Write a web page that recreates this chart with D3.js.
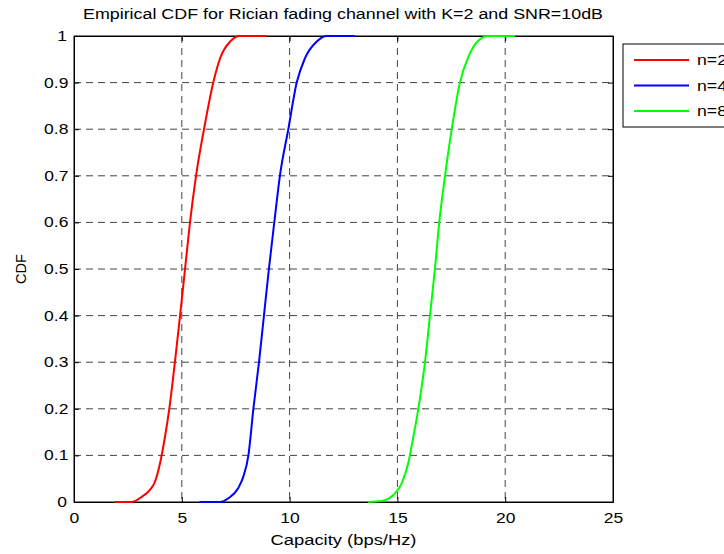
<!DOCTYPE html>
<html>
<head>
<meta charset="utf-8">
<script src="https://cdn.jsdelivr.net/npm/d3@7"></script>
<style>
    body { margin: 0; background: #fff; }
    svg text { font-family: "Liberation Sans", Arial, sans-serif; fill: #000; }
    .stretch { transform-box: fill-box; transform-origin: center; transform: scaleX(1.25); }
</style>
</head>
<body>
<div id="chart"></div>
<script>
// values (capacity in bps/Hz, cumulative probability)
var xTicks = [0, 5, 10, 15, 20, 25];
var yTicks = [0, 0.1, 0.2, 0.3, 0.4, 0.5, 0.6, 0.7, 0.8, 0.9, 1];
var seriesNames = ["n=2", "n=4", "n=8"];
var seriesColors = ["#ff0000", "#0000ff", "#00ff00"];

var n2x = [1.9, 2.67, 3.14, 3.52, 3.76, 3.99, 4.22, 4.42, 4.68, 4.92, 5.15, 5.38, 5.66, 6.03, 6.46, 6.8, 7.24, 7.7, 8.94];
var n2y = [0, 0, 0.011, 0.026, 0.044, 0.083, 0.14, 0.2, 0.3, 0.4, 0.5, 0.6, 0.7, 0.8, 0.9, 0.955, 0.988, 1, 1];
var n4x = [5.81, 6.77, 7.16, 7.62, 7.85, 8.09, 8.32, 8.58, 8.81, 9.04, 9.29, 9.55, 9.94, 10.33, 10.71, 11.26, 11.72, 13.03];
var n4y = [0, 0, 0.008, 0.03, 0.054, 0.1, 0.2, 0.3, 0.4, 0.5, 0.6, 0.7, 0.8, 0.9, 0.952, 0.988, 1, 1];
var n8x = [13.65, 14.27, 14.81, 15.2, 15.5, 15.74, 15.97, 16.28, 16.51, 16.74, 16.94, 17.21, 17.52, 17.9, 18.29, 18.75, 19.22, 20.45];
var n8y = [0, 0.002, 0.015, 0.04, 0.083, 0.14, 0.2, 0.3, 0.4, 0.5, 0.6, 0.7, 0.8, 0.9, 0.955, 0.99, 1, 1];

var margin = { left: 74, right: 111, top: 36, bottom: 52 };
var width = 724 - margin.left - margin.right;
var height = 554 - margin.top - margin.bottom;

var svg = d3.select("#chart").append("svg")
    .attr("width", 724)
    .attr("height", 554);
var g = svg.append("g")
    .attr("transform", "translate(" + margin.left + "," + margin.top + ")");

var x = d3.scaleLinear().domain([0, 25]).range([0, width]);
var y = d3.scaleLinear().domain([0, 1]).range([height, 0]);

// grid
g.append("g").selectAll("line").data(xTicks.slice(1, -1)).enter().append("line")
    .attr("x1", d => x(d)).attr("x2", d => x(d))
    .attr("y1", 0).attr("y2", height)
    .attr("stroke", "#444").attr("stroke-width", 1).attr("stroke-dasharray", "7,5");
g.append("g").selectAll("line").data(yTicks.slice(1, -1)).enter().append("line")
    .attr("y1", d => y(d)).attr("y2", d => y(d))
    .attr("x1", 0).attr("x2", width)
    .attr("stroke", "#444").attr("stroke-width", 1).attr("stroke-dasharray", "7,5");

// axes (ticks inward like matlab)
var xAxisCall = d3.axisBottom(x).tickValues(xTicks).tickSize(-5).tickPadding(11).tickFormat(d3.format("d"));
var yAxisCall = d3.axisLeft(y).tickValues(yTicks).tickSize(-5).tickPadding(8).tickFormat(d => d === 0 || d === 1 ? d : d3.format(".1f")(d));

var xAxis = g.append("g").attr("transform", "translate(0," + height + ")").call(xAxisCall);
var yAxis = g.append("g").call(yAxisCall);
g.append("g").call(d3.axisTop(x).tickValues(xTicks).tickSize(-5).tickFormat(""));
g.append("g").attr("transform", "translate(" + width + ",0)").call(d3.axisRight(y).tickValues(yTicks).tickSize(-5).tickFormat(""));

svg.selectAll(".domain").attr("stroke", "#000");
svg.selectAll(".tick line").attr("stroke", "#000");
[xAxis, yAxis].forEach(function (a) {
    a.selectAll("text").attr("font-size", "14px").attr("fill", "#000")
        .style("font-family", '"Liberation Sans", Arial, sans-serif')
        .classed("stretch", true);
});

// frame
g.append("rect").attr("width", width).attr("height", height)
    .attr("fill", "none").attr("stroke", "#000").attr("stroke-width", 1);

// curves
var line = d3.line().x(d => x(d[0])).y(d => y(d[1])).curve(d3.curveMonotoneX);
var allSeries = [d3.zip(n2x, n2y), d3.zip(n4x, n4y), d3.zip(n8x, n8y)];
g.selectAll(".curve").data(allSeries).enter().append("path")
    .attr("class", "curve")
    .attr("d", line)
    .attr("fill", "none")
    .attr("stroke", (d, i) => seriesColors[i])
    .attr("stroke-width", 2);

// Title
svg.append("text")
    .attr("x", 343).attr("y", 19)
    .attr("text-anchor", "middle")
    .attr("font-size", "14px")
    .attr("textLength", 520).attr("lengthAdjust", "spacingAndGlyphs")
    .text("Empirical CDF for Rician fading channel with K=2 and SNR=10dB");

// X Label
svg.append("text")
    .attr("x", margin.left + width / 2).attr("y", 545)
    .attr("text-anchor", "middle")
    .attr("font-size", "14px")
    .attr("textLength", 146).attr("lengthAdjust", "spacingAndGlyphs")
    .text("Capacity (bps/Hz)");

// Y Label
svg.append("text")
    .attr("transform", "translate(26,269) rotate(-90)")
    .attr("text-anchor", "middle")
    .attr("font-size", "14px")
    .attr("textLength", 30).attr("lengthAdjust", "spacingAndGlyphs")
    .text("CDF");

// legend
var legend = svg.append("g").attr("transform", "translate(623,44)");
legend.append("rect").attr("width", 110).attr("height", 83)
    .attr("fill", "#fff").attr("stroke", "#000").attr("stroke-width", 1);
var items = legend.selectAll(".item").data(seriesNames).enter().append("g")
    .attr("transform", (d, i) => "translate(0," + (16 + i * 25.5) + ")");
items.append("line").attr("x1", 11).attr("x2", 66)
    .attr("stroke", (d, i) => seriesColors[i]).attr("stroke-width", 2);
items.append("text").attr("x", 74).attr("y", 5)
    .attr("font-size", "14px")
    .attr("textLength", 30).attr("lengthAdjust", "spacingAndGlyphs")
    .text(d => d);
</script>
</body>
</html>
